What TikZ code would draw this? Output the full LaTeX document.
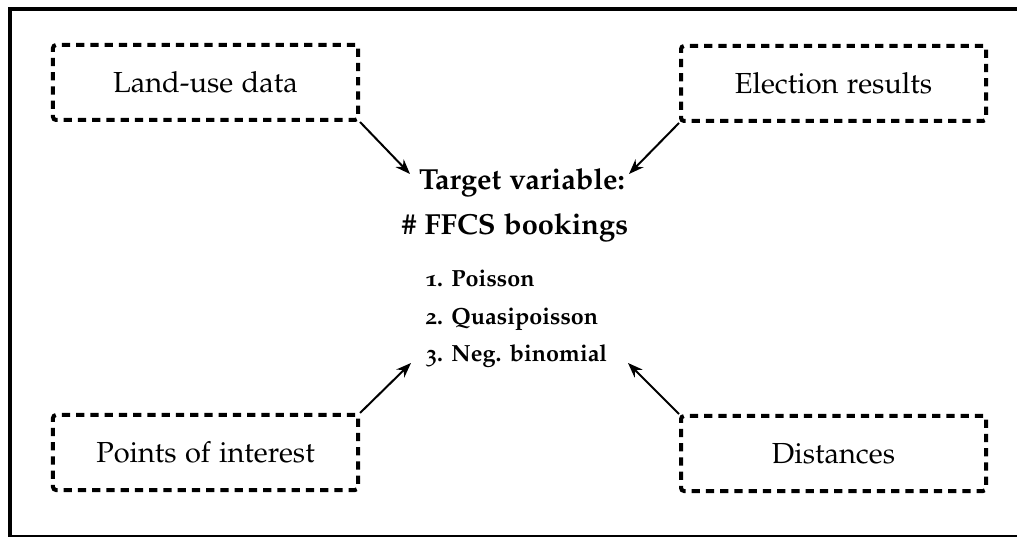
\documentclass[tikz,border=0pt]{standalone}
\usepackage[T1]{fontenc}
\usepackage[osf]{mathpazo}
\usetikzlibrary{arrows.meta}
\tikzset{
  srcbox/.style={draw, line width=1.6pt, dash pattern=on 3.3pt off 2.4pt,
    rounded corners=1.2pt, minimum width=122pt, minimum height=30pt,
    inner sep=0pt, font=\fontsize{11.6}{14}\selectfont},
  headtext/.style={anchor=base, inner sep=0pt, font=\fontsize{11.6}{14}\selectfont\bfseries},
  itemtext/.style={anchor=base west, inner sep=0pt, font=\fontsize{9.35}{11}\selectfont\bfseries},
  link/.style={line width=0.8pt, -{Stealth[length=6pt,width=4.5pt]}}
}
\begin{document}
\begin{tikzpicture}[x=0.4pt,y=-0.4pt]
\useasboundingbox (0,0) rectangle (1017,537);
\draw[line width=1.6pt] (10,9) rectangle (1022,537);
\node[srcbox] (lu) at (205.5,82.5) {Land-use data};
\node[srcbox] (er) at (833.5,83.5) {Election results};
\node[srcbox] (poi) at (205.5,452.5) {Points of interest};
\node[srcbox] (dist) at (833.5,453.5) {Distances};
\node[headtext] (t1) at (522,190) {Target variable:};
\node[headtext] (t2) at (515,235) {\# FFCS bookings};
\node[itemtext] (i1) at (425,287) {1. Poisson};
\node[itemtext] (i2) at (425,325) {2. Quasipoisson};
\node[itemtext] (i3) at (425,362) {3. Neg. binomial};
\coordinate (tnw) at (410,174);
\coordinate (tne) at (629,174);
\coordinate (tsw) at (411,363);
\coordinate (tse) at (628,363);
\draw[link] (lu.south east) -- (tnw);
\draw[link] (er.south west) -- (tne);
\draw[link] (poi.north east) -- (tsw);
\draw[link] (dist.north west) -- (tse);
\end{tikzpicture}
\end{document}
